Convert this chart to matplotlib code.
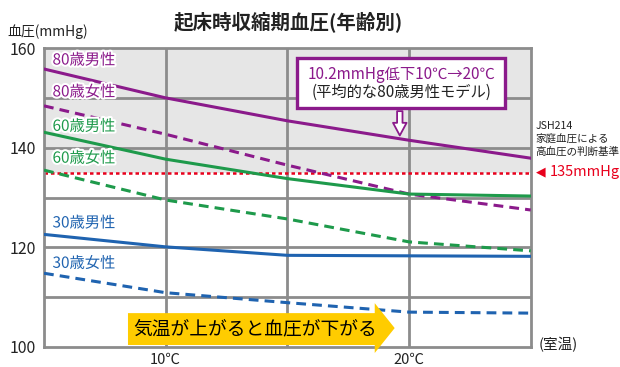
import matplotlib
matplotlib.use('Agg')
import matplotlib.pyplot as plt
from matplotlib.patches import Polygon, Rectangle, FancyArrowPatch
import matplotlib.patheffects as pe

plt.rcParams['font.family'] = ['Noto Sans CJK JP', 'DejaVu Sans']

# room temperature (℃) and morning systolic pressure (mmHg)
temps = [5, 10, 15, 20, 25]
m80 = [155.8, 150.0, 145.4, 141.5, 137.9]
f80 = [148.4, 142.7, 136.5, 130.7, 127.5]
m60 = [143.1, 137.7, 133.8, 130.7, 130.3]
f60 = [135.5, 129.5, 125.7, 121.1, 119.3]
m30 = [122.6, 120.1, 118.4, 118.3, 118.2]
f30 = [114.8, 110.9, 108.9, 107.0, 106.8]
labels = ['80歳男性', '80歳女性', '60歳男性', '60歳女性', '30歳男性', '30歳女性']
label_y = [157.6, 151.2, 144.3, 137.9, 124.9, 116.8]
threshold = 135
yticks = [100, 120, 140, 160]
xticks = [10, 20]
xticklabels = ['10℃', '20℃']

PURPLE = '#8B1A8B'
GREEN = '#1E9A4B'
BLUE = '#1F63B0'
GRID = '#8C8C8C'

fig = plt.figure(figsize=(6.2, 3.67), dpi=100)
ax = fig.add_axes([0.071, 0.0545, 0.785, 0.8145])
ax.set_xlim(5, 25)
ax.set_ylim(100, 160)

ax.axhspan(threshold, 160, color='#E6E6E6', zorder=0, lw=0)
for v in [10, 15, 20]:
    ax.axvline(v, color=GRID, lw=2, zorder=1)
for v in [110, 120, 130, 140, 150]:
    ax.axhline(v, color=GRID, lw=2, zorder=1)
for s in ax.spines.values():
    s.set_color(GRID)
    s.set_linewidth(2)

ax.axhline(threshold, color='#E8001C', lw=1.8, ls=(0, (1.4, 1.2)), zorder=2)

series = [(m80, PURPLE, '-'), (f80, PURPLE, '--'), (m60, GREEN, '-'),
          (f60, GREEN, '--'), (m30, BLUE, '-'), (f30, BLUE, '--')]
for (vals, c, ls), lab, ly in zip(series, labels, label_y):
    style = (0, (3.2, 2)) if ls == '--' else '-'
    ax.plot(temps, vals, color=c, lw=2.2, ls=style, zorder=3)
    ax.text(5.35, ly, lab, color=c, fontsize=11, va='center', ha='left', zorder=4,
            path_effects=[pe.withStroke(linewidth=3, foreground='white')])

ax.set_yticks(yticks)
ax.set_xticks(xticks)
ax.set_xticklabels(xticklabels)
ax.tick_params(length=0, labelsize=11.5, colors='#222222')
ax.tick_params(axis='y', pad=6)
ax.tick_params(axis='x', pad=4, labelsize=10.5)

# annotation box
ax.add_patch(Rectangle((15.39, 147.95), 8.54, 10.04, facecolor='white',
                       edgecolor=PURPLE, lw=2.4, zorder=5))
ax.text(19.7, 154.6, '10.2mmHg低下10℃→20℃', color=PURPLE, fontsize=11,
        ha='center', va='center', zorder=6)
ax.text(19.7, 151.2, '(平均的な80歳男性モデル)', color='#222222', fontsize=11,
        ha='center', va='center', zorder=6)
ax.add_patch(FancyArrowPatch((19.62, 147.9), (19.62, 141.9),
                             arrowstyle='simple,head_width=0.75,head_length=0.7,tail_width=0.3',
                             mutation_scale=13, facecolor='white', edgecolor=PURPLE,
                             lw=1.3, zorder=5))

# yellow arrow
ax.add_patch(Polygon([(8.45, 106.8), (18.59, 106.8), (18.59, 108.8), (19.41, 103.8),
                      (18.59, 98.8), (18.59, 100.4), (8.45, 100.4)],
                     closed=True, facecolor='#FFCC00', edgecolor='none',
                     zorder=7, clip_on=False))
ax.text(8.65, 103.6, '気温が上がると血圧が下がる', fontsize=13.5, color='black',
        ha='left', va='center', zorder=8)

fig.text(0.012, 0.913, '血圧(mmHg)', fontsize=10, color='#222222', va='center')
fig.text(0.465, 0.94, '起床時収縮期血圧(年齢別)', fontsize=14, fontweight='bold',
         color='#222222', ha='center', va='center')
fig.text(0.868, 0.06, '(室温)', fontsize=10.5, color='#222222', va='center')
fig.text(0.864, 0.622, 'JSH214\n家庭血圧による\n高血圧の判断基準', fontsize=7.6,
         color='#222222', va='center', linespacing=1.3)
fig.text(0.864, 0.531, '◀', fontsize=9, color='#E8001C', va='center',
         family=['DejaVu Sans'])
fig.text(0.886, 0.531, '135mmHg', fontsize=10.5, color='#E8001C', va='center')

fig.savefig('out.png', dpi=100)
